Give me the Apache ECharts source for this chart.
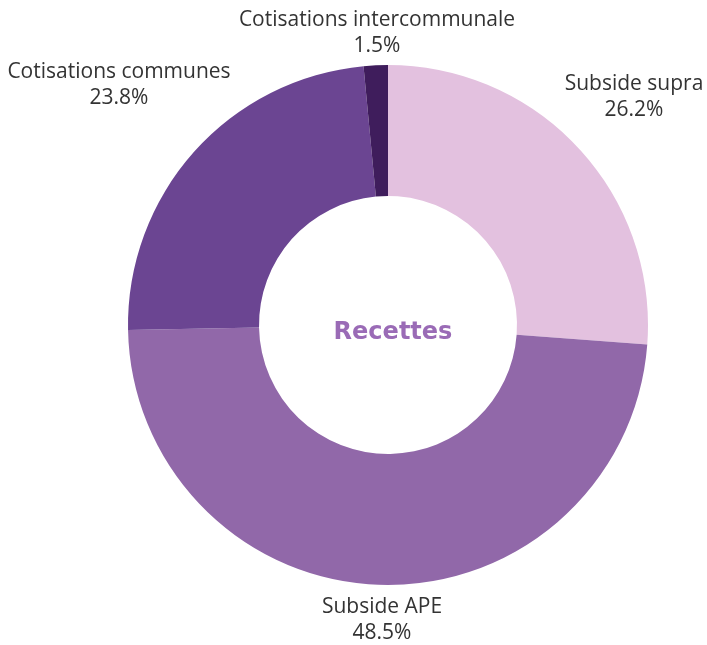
<!DOCTYPE html>
<html><head><meta charset="utf-8">
<script src="https://cdn.jsdelivr.net/npm/echarts@6/dist/echarts.min.js"></script>
<style>html,body{margin:0;padding:0;background:#fff}#c{width:707px;height:645px}</style>
</head><body><div id="c"></div>
<script>
const categories = ["Subside supra", "Subside APE", "Cotisations communes", "Cotisations intercommunale"];
const values = [26.2, 48.5, 23.8, 1.5];
const colors = ["#e3c1df", "#9168a9", "#6b4592", "#3f1d5c"];
const centerTitle = "Recettes";
// label centre positions (layout only)
const labelCentres = [[634, 97], [382, 620], [119, 85], [377, 33]];

const chart = echarts.init(document.getElementById('c'));
chart.setOption({
  animation: false,
  title: {
    text: centerTitle, left: 388, top: 328, textAlign: 'center', textVerticalAlign: 'middle',
    textStyle: { fontFamily: 'DejaVu Sans', fontSize: 24, fontWeight: 'bold', color: '#9a6bb6' }
  },
  series: [{
    type: 'pie',
    center: [388, 325],
    radius: [129, 260],
    startAngle: 90,
    clockwise: true,
    data: categories.map((n, i) => ({ name: n, value: values[i], itemStyle: { color: colors[i] } })),
    label: {
      show: true, position: 'outside', overflow: 'none', alignTo: 'none',
      formatter: p => p.name + '\n' + p.value.toFixed(1) + '%',
      fontFamily: 'Open Sans', fontSize: 21, color: '#333', lineHeight: 26, align: 'center'
    },
    labelLine: { show: false },
    labelLayout: p => ({ x: labelCentres[p.dataIndex][0], y: labelCentres[p.dataIndex][1], align: 'center', verticalAlign: 'middle' })
  }]
});
</script></body></html>
